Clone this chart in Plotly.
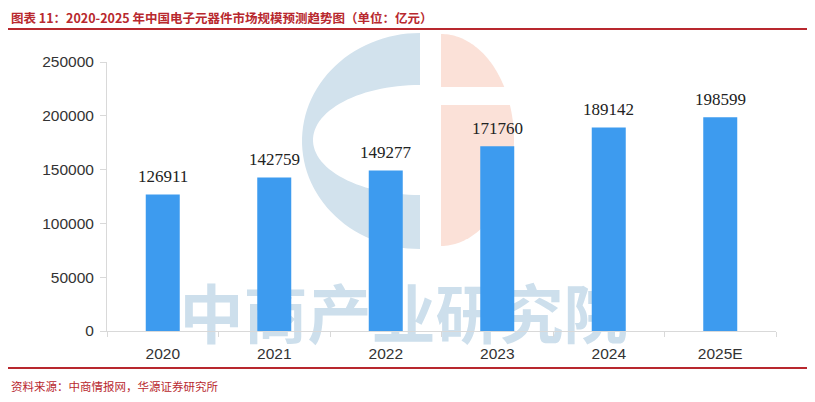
import numpy as np
import plotly.graph_objects as go

categories = ["2020", "2021", "2022", "2023", "2024", "2025E"]
values = [126911, 142759, 149277, 171760, 189142, 198599]
y_ticks = [0, 50000, 100000, 150000, 200000, 250000]

title_text = "图表 11：2020-2025 年中国电子元器件市场规模预测趋势图（单位：亿元）"
source_text = "资料来源：中商情报网，华源证券研究所"
watermark_text = "中商产业研究院"

red = "#b8282e"

# plot area in page pixels (page has an 8px body offset)
PL, PT, PW, PH = 107, 62, 669, 269


def px(x):
    return (x - PL) / PW


def py(y):
    return (PT + PH - y) / PH


def path_from(points):
    return "M " + " L ".join(f"{px(a):.5f},{py(b):.5f}" for a, b in points) + " Z"


# decorative logo watermark (blue "C" and salmon half)
outer = [(420 + 118 * np.cos(t), 141 + 108 * np.sin(t)) for t in np.linspace(-np.pi / 2, -3 * np.pi / 2, 60)]
inner_arc = [(420 + 107 * np.cos(t), 140 + 55 * np.sin(t)) for t in np.linspace(-3 * np.pi / 2, -np.pi / 2, 60)]
blue_pts = outer + inner_arc

cx, cy, rx, ry = 441, 140, 73, 106
t_top = np.linspace(-np.pi / 2, np.arcsin((87 - cy) / ry), 40)
top_pts = [(cx, cy - ry)] + [(cx + rx * np.cos(t), cy + ry * np.sin(t)) for t in t_top] + [(cx, 87)]
t_bot = np.linspace(np.arcsin((105 - cy) / ry), np.pi / 2, 60)
bot_pts = [(cx, 105)] + [(cx + rx * np.cos(t), cy + ry * np.sin(t)) for t in t_bot] + [(cx, cy + ry)]

fig = go.Figure()
fig.add_trace(go.Bar(
    x=categories, y=values, width=0.305,
    marker=dict(color="#3d9bef", line=dict(width=0)),
    hoverinfo="x+y",
))

# value labels, positioned at each category's index on the category axis
label_anns = [
    dict(x=i, y=v, xref="x", yref="y", text=str(v), showarrow=False,
         yanchor="middle", yshift=18,
         font=dict(family="Liberation Serif, serif", size=17, color="#222222"))
    for i, v in enumerate(values)
]

fig.update_layout(
    width=807, height=394,
    paper_bgcolor="white", plot_bgcolor="rgba(0,0,0,0)",
    margin=dict(l=PL - 8, r=807 - (PL - 8) - PW, t=PT - 8, b=394 - (PT - 8) - PH),
    showlegend=False,
    xaxis=dict(
        type="category", showline=True, linecolor="#d9d9d9", linewidth=1,
        range=[-0.5, len(categories) - 0.5],
        ticks="outside", tickson="boundaries", ticklen=5, tickcolor="#d9d9d9",
        tickfont=dict(family="Liberation Sans, Arial, sans-serif", size=15.5, color="#333333"),
        ticklabelstandoff=8, showgrid=False,
    ),
    yaxis=dict(
        range=[0, 250000], tickvals=y_ticks, ticktext=[str(t) for t in y_ticks],
        showline=True, linecolor="#d9d9d9", linewidth=1,
        ticks="outside", ticklen=6, tickcolor="#d9d9d9",
        tickfont=dict(family="Liberation Sans, Arial, sans-serif", size=15.5, color="#333333"),
        ticklabelstandoff=3, showgrid=False, zeroline=False,
    ),
    shapes=[
        dict(type="path", xref="paper", yref="paper", path=path_from(blue_pts),
             fillcolor="#d2e2ed", line=dict(width=0), layer="below"),
        dict(type="path", xref="paper", yref="paper", path=path_from(top_pts),
             fillcolor="#fbe1d8", line=dict(width=0), layer="below"),
        dict(type="path", xref="paper", yref="paper", path=path_from(bot_pts),
             fillcolor="#fbe1d8", line=dict(width=0), layer="below"),
        dict(type="rect", xref="paper", yref="paper", x0=px(180), x1=px(627), y0=py(357), y1=py(283),
             line=dict(width=0), fillcolor="rgba(0,0,0,0)", layer="below",
             label=dict(text=watermark_text, textposition="middle center",
                        font=dict(family="Noto Sans CJK SC", size=64, color="#cddfec", weight="bold"))),
        dict(type="line", xref="paper", yref="paper", x0=px(8), x1=px(815), y0=py(29), y1=py(29),
             line=dict(color=red, width=2)),
        dict(type="line", xref="paper", yref="paper", x0=px(8), x1=px(815), y0=py(368), y1=py(368),
             line=dict(color=red, width=2)),
    ],
    annotations=label_anns + [
        dict(text="<b>" + title_text + "</b>", xref="paper", yref="paper",
             x=px(9), y=py(17.5), xanchor="left", yanchor="middle", showarrow=False,
             font=dict(family="Noto Sans CJK SC", size=12.5, color=red)),
        dict(text=source_text, xref="paper", yref="paper",
             x=px(9), y=py(386), xanchor="left", yanchor="middle", showarrow=False,
             font=dict(family="Noto Sans CJK SC", size=11.5, color=red)),
    ],
)

fig.write_html("out.html")
